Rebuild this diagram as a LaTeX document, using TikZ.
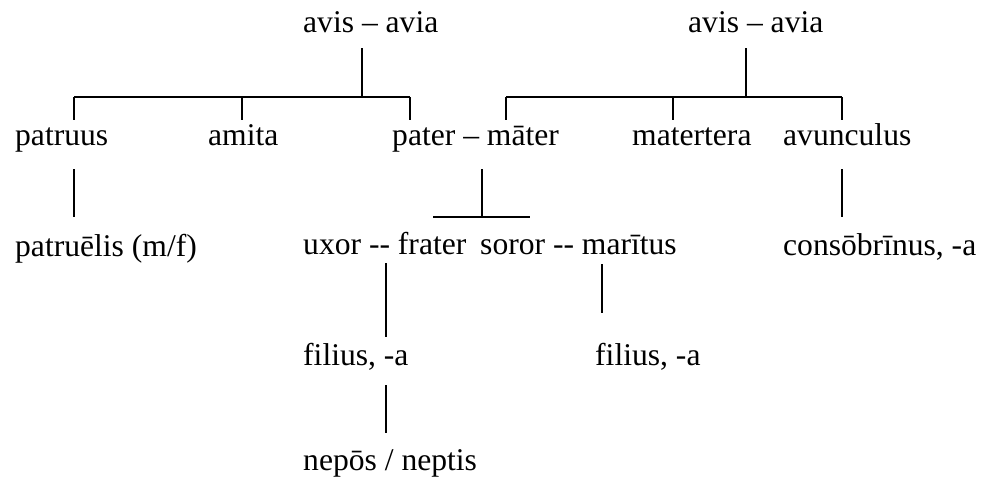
\documentclass[tikz,border=0pt]{standalone}
\usepackage{fontspec}
\setmainfont{Liberation Serif}
\begin{document}
\begin{tikzpicture}[x=1pt,y=-1pt,
  term/.style={anchor=base west,inner sep=0pt,font=\fontsize{31.6}{36}\selectfont},
  link/.style={line width=1.3pt}]
\useasboundingbox (0,0) rectangle (984,488);

% kin terms
\node[term] (avisL) at (303,32) {avis – avia};
\node[term] (avisR) at (688,32) {avis – avia};
\node[term] (patruus) at (15,145) {patruus};
\node[term] (amita) at (208,145) {amita};
\node[term] (parentes) at (392,145) {pater – māter};
\node[term] (matertera) at (632,145) {matertera};
\node[term] (avunculus) at (783,145) {avunculus};
\node[term] (patruelis) at (15,256) {patruēlis (m/f)};
\node[term] (frater) at (303,254) {uxor -{}- frater};
\node[term] (soror) at (480,254) {soror -{}- marītus};
\node[term] (consobrinus) at (783,255) {consōbrīnus, -a};
\node[term] (filiusA) at (303,365) {f{}ilius, -a};
\node[term] (filiusB) at (595,365) {f{}ilius, -a};
\node[term] (nepos) at (303,470) {nepōs / neptis};

% junction points
\coordinate (aL) at (362,48);  \coordinate (bL) at (362,97);
\coordinate (cL1) at (74,97);  \coordinate (cL2) at (242,97); \coordinate (cL3) at (410,97);
\coordinate (dL1) at (74,120); \coordinate (dL2) at (242,120); \coordinate (dL3) at (410,120);
\coordinate (aR) at (746,48);  \coordinate (bR) at (746,97);
\coordinate (cR1) at (506,97); \coordinate (cR2) at (673,97); \coordinate (cR3) at (842,97);
\coordinate (dR1) at (506,120); \coordinate (dR2) at (673,120); \coordinate (dR3) at (842,120);
\coordinate (p1) at (74,169);  \coordinate (p2) at (74,217);
\coordinate (m1) at (482,169); \coordinate (m2) at (482,217);
\coordinate (s1) at (433,217); \coordinate (s2) at (530,217);
\coordinate (u1) at (842,169); \coordinate (u2) at (842,217);
\coordinate (f1) at (386,263); \coordinate (f2) at (386,337);
\coordinate (r1) at (602,264); \coordinate (r2) at (602,313);
\coordinate (n1) at (386,385); \coordinate (n2) at (386,433);

% paternal grandparents
\draw[link] (aL) -- (bL);
\draw[link] (cL1) -- (cL3);
\draw[link] (cL1) -- (dL1);
\draw[link] (cL2) -- (dL2);
\draw[link] (cL3) -- (dL3);
% maternal grandparents
\draw[link] (aR) -- (bR);
\draw[link] (cR1) -- (cR3);
\draw[link] (cR1) -- (dR1);
\draw[link] (cR2) -- (dR2);
\draw[link] (cR3) -- (dR3);
% children
\draw[link] (p1) -- (p2);
\draw[link] (m1) -- (m2);
\draw[link] (s1) -- (s2);
\draw[link] (u1) -- (u2);
\draw[link] (f1) -- (f2);
\draw[link] (r1) -- (r2);
\draw[link] (n1) -- (n2);
\end{tikzpicture}
\end{document}
